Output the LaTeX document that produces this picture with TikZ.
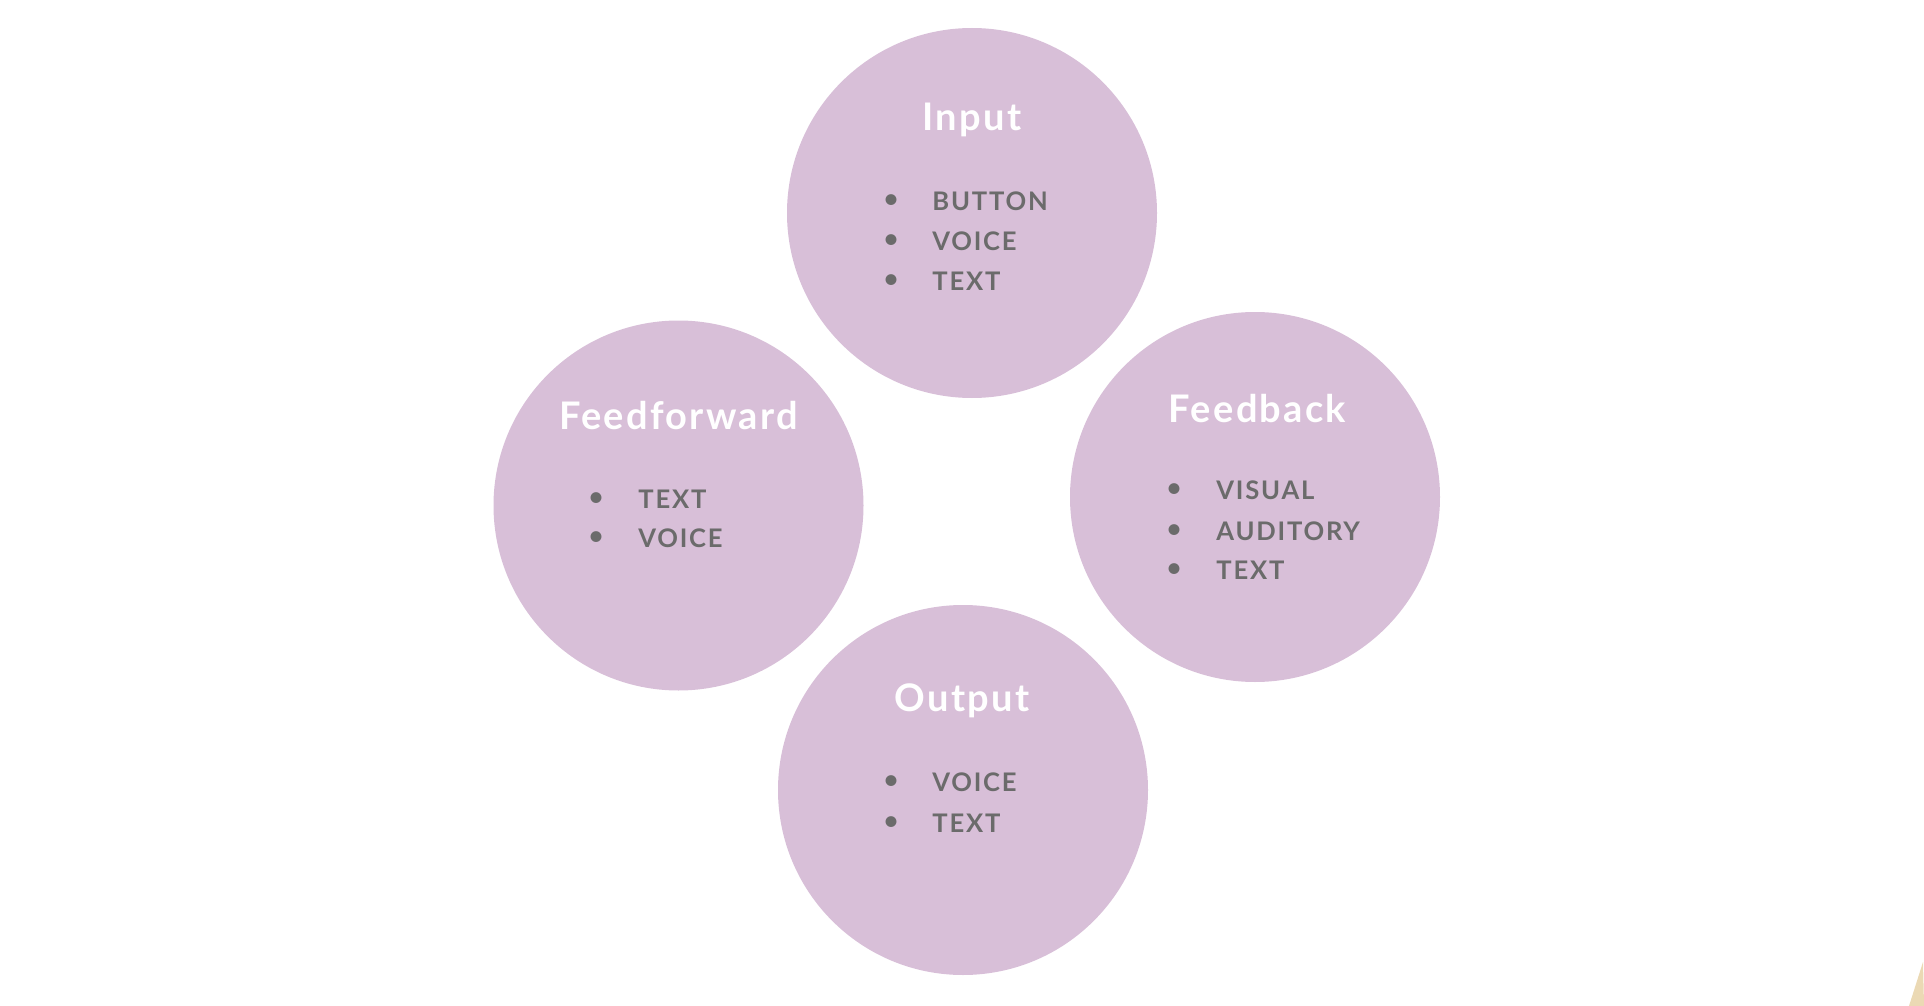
\documentclass[tikz,border=0pt]{standalone}
\usepackage{fontspec}
\setmainfont{Lato}
\newfontfamily\titlefont[LetterSpace=6]{Lato}
\newfontfamily\itemfont[LetterSpace=7]{Lato}
\definecolor{circfill}{HTML}{D8BFD8}
\definecolor{itemgray}{HTML}{6B6B6B}
\definecolor{cornerbeige}{HTML}{EBD9B4}
\begin{document}
\begin{tikzpicture}[x=0.5pt,y=-0.5pt,
  circ/.style={circle,fill=circfill,draw=none,minimum size=370*0.5pt,inner sep=0pt},
  ttl/.style={text=white,font=\titlefont\fontsize{19}{22}\selectfont\bfseries,inner sep=0pt},
  itm/.style={text=itemgray,font=\itemfont\fontsize{12.8}{15}\selectfont\bfseries,anchor=west,inner sep=0pt},
  bul/.style={text=itemgray,font=\fontsize{12.5}{15}\selectfont\bfseries,inner sep=0pt}]
\useasboundingbox (0,0) rectangle (1924,1006);
% circles
\node[circ] (input) at (972,213) {};
\node[circ] (ff) at (678.5,505.5) {};
\node[circ] (fb) at (1255,497) {};
\node[circ] (out) at (963,790) {};
% Input
\node[ttl] (inputT) at (972,120) {Input};
\node[bul] (ib1) at (891,201) {•};
\node[bul] (ib2) at (891,241.5) {•};
\node[bul] (ib3) at (891,281) {•};
\node[itm] (i1) at (932,201) {BUTTON};
\node[itm] (i2) at (932,241.5) {VOICE};
\node[itm] (i3) at (932,281) {TEXT};
% Feedforward
\node[ttl] (ffT) at (678.5,416) {Feedforward};
\node[bul] (fb1x) at (596,499) {•};
\node[bul] (fb2x) at (596,538.5) {•};
\node[itm] (f1) at (638,499) {TEXT};
\node[itm] (f2) at (638,538.5) {VOICE};
% Feedback
\node[ttl] (fbT) at (1257.5,408.5) {Feedback};
\node[bul] (kb1) at (1174,490.5) {•};
\node[bul] (kb2) at (1174,531) {•};
\node[bul] (kb3) at (1174,570) {•};
\node[itm] (k1) at (1216,490.5) {VISUAL};
\node[itm] (k2) at (1216,531) {AUDITORY};
\node[itm] (k3) at (1216,570) {TEXT};
% Output
\node[ttl] (outT) at (962,700.5) {Output};
\node[bul] (ob1) at (891,782.5) {•};
\node[bul] (ob2) at (891,823) {•};
\node[itm] (o1) at (932,782.5) {VOICE};
\node[itm] (o2) at (932,823) {TEXT};
% corner shape
\fill[cornerbeige] (1923,962) -- (1909,1006) -- (1924,1006) -- cycle;
\end{tikzpicture}
\end{document}
